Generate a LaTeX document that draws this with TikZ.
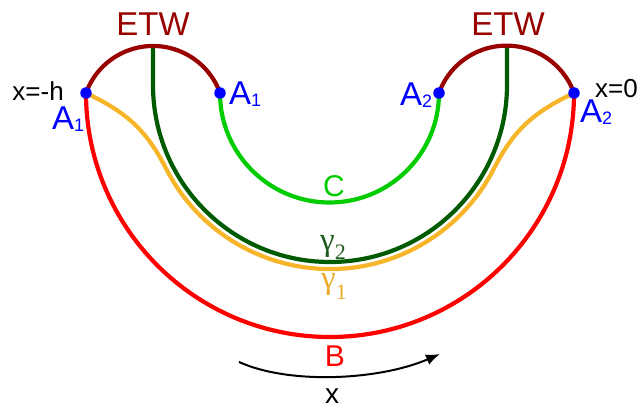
\documentclass[tikz,border=0pt]{standalone}
\usepackage{fontspec}
\setmainfont{Liberation Sans}
\newfontfamily\gfont{Liberation Serif}
\usetikzlibrary{arrows.meta}
\definecolor{etw}{RGB}{153,0,0}
\definecolor{cgreen}{RGB}{0,204,0}
\definecolor{dgreen}{RGB}{0,90,0}
\definecolor{gorange}{RGB}{247,181,41}
\definecolor{bred}{RGB}{255,0,0}
\definecolor{ablue}{RGB}{0,0,255}
\definecolor{glbl}{RGB}{30,90,30}
\definecolor{olbl}{RGB}{235,170,40}
\begin{document}
\begin{tikzpicture}[x=1pt,y=1pt,
  curve/.style={line width=4.2pt},
  dot/.style={circle,fill=ablue,inner sep=0pt,minimum size=11.5pt},
  lbl/.style={inner sep=0pt}]
\useasboundingbox (0,0) rectangle (638,408);
\coordinate (A1L) at (86,315);
\coordinate (A1I) at (220,315);
\coordinate (A2I) at (439,315);
\coordinate (A2R) at (574,315);
\coordinate (G2L) at (153,362);
\coordinate (G2R) at (507,362);
\coordinate (ArS) at (239,46);
\coordinate (ArE) at (440,54);
% B
\draw[curve,bred] (A1L) arc[start angle=180,end angle=360,radius=244];
% gamma 1
\draw[curve,gorange] (A1L) .. controls (128,295) and (147,277) .. (166.8,238)
  arc[start angle=207.5,end angle=332.5,radius=184]
  .. controls (513,277) and (532,295) .. (A2R);
% gamma 2
\draw[curve,dgreen] (G2L) -- (153,323) arc[start angle=180,end angle=360,radius=177] -- (G2R);
% C
\draw[curve,cgreen] (A1I) arc[start angle=180,end angle=360,radius=109.5];
% ETW arcs
\draw[curve,etw] (A1L) arc[start angle=160.1,end angle=19.9,radius=71.3];
\draw[curve,etw] (A2I) arc[start angle=160.1,end angle=19.9,radius=71.8];
% dots
\node[dot] (dA1L) at (A1L) {};
\node[dot] (dA1I) at (A1I) {};
\node[dot] (dA2I) at (A2I) {};
\node[dot] (dA2R) at (A2R) {};
% arrow
\draw[line width=2pt,-{Latex[length=14pt,width=11pt]}] (ArS) .. controls (290,23) and (380,28) .. (ArE);
% labels
\node[lbl,text=etw,font=\fontsize{33}{33}\selectfont] (etwL) at (153,383.5) {ETW};
\node[lbl,text=etw,font=\fontsize{33}{33}\selectfont] (etwR) at (508,383.5) {ETW};
\node[lbl,anchor=base east,font=\fontsize{26}{26}\selectfont] (xh) at (64,308) {x=-h};
\node[lbl,anchor=base west,font=\fontsize{26}{26}\selectfont] (x0) at (595,310) {x=0};
\node[lbl,anchor=base west,text=ablue] (lA1L) at (52,278) {\fontsize{33}{33}\selectfont A\fontsize{18}{18}\selectfont\raisebox{-2pt}{1}};
\node[lbl,anchor=base west,text=ablue] (lA1I) at (229,303) {\fontsize{33}{33}\selectfont A\fontsize{18}{18}\selectfont\raisebox{-2pt}{1}};
\node[lbl,anchor=base west,text=ablue] (lA2I) at (400,302) {\fontsize{33}{33}\selectfont A\fontsize{18}{18}\selectfont\raisebox{-2pt}{2}};
\node[lbl,anchor=base west,text=ablue] (lA2R) at (580,285) {\fontsize{33}{33}\selectfont A\fontsize{18}{18}\selectfont\raisebox{-2pt}{2}};
\node[lbl,text=cgreen,font=\fontsize{30}{30}\selectfont] (lC) at (334,222) {C};
\node[lbl,anchor=base west,text=glbl] (lg2) at (320,158) {\gfont\fontsize{33}{33}\selectfont γ\fontsize{22}{22}\selectfont\raisebox{-10pt}{2}};
\node[lbl,anchor=base west,text=olbl] (lg1) at (321,120) {\gfont\fontsize{33}{33}\selectfont γ\fontsize{22}{22}\selectfont\raisebox{-11pt}{1}};
\node[lbl,text=bred,font=\fontsize{30}{30}\selectfont] (lB) at (335,52) {B};
\node[lbl,anchor=base,font=\fontsize{28}{28}\selectfont] (lx) at (332,5) {x};
\end{tikzpicture}
\end{document}
